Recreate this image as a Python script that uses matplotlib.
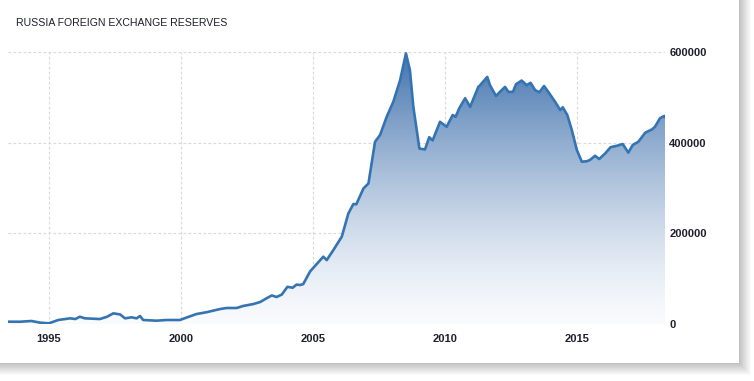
import numpy as np
import matplotlib
matplotlib.use("Agg")
import matplotlib.pyplot as plt
from matplotlib.patches import Rectangle
from matplotlib.colors import LinearSegmentedColormap

# Russia foreign exchange reserves, USD million
years = [1993.45, 1993.9, 1994.34, 1994.66, 1995.0, 1995.35, 1995.8, 1996.0, 1996.17,
         1996.36, 1996.93, 1997.2, 1997.44, 1997.7, 1997.88, 1998.13, 1998.32, 1998.45,
         1998.57, 1999.08, 1999.45, 1999.96, 2000.2, 2000.59, 2000.97, 2001.48, 2001.73,
         2002.11, 2002.37, 2002.74, 2003.0, 2003.25, 2003.44, 2003.62, 2003.82, 2004.03,
         2004.23, 2004.38, 2004.51, 2004.63, 2004.89, 2005.39, 2005.52, 2005.77, 2006.09,
         2006.34, 2006.53, 2006.64, 2006.91, 2007.1, 2007.35, 2007.54, 2007.79, 2008.04,
         2008.3, 2008.52, 2008.67, 2008.8, 2009.03, 2009.24, 2009.4, 2009.53, 2009.81,
         2010.06, 2010.29, 2010.4, 2010.54, 2010.76, 2010.95, 2011.26, 2011.33, 2011.6,
         2011.7, 2011.93, 2012.08, 2012.27, 2012.4, 2012.57, 2012.69, 2012.9, 2013.09,
         2013.24, 2013.41, 2013.57, 2013.75, 2013.91, 2014.17, 2014.36, 2014.46, 2014.63,
         2014.8, 2014.99, 2015.18, 2015.37, 2015.49, 2015.68, 2015.84, 2016.06, 2016.27,
         2016.5, 2016.73, 2016.94, 2017.11, 2017.32, 2017.58, 2017.83, 2017.95, 2018.14,
         2018.3, 2018.33]
reserves = [5100, 5000, 6600, 3000, 1500, 8800, 12500, 11000, 16000,
            12500, 11000, 16000, 23500, 21000, 12500, 14700, 12500, 17600,
            8800, 7300, 8800, 8800, 14000, 22000, 26000, 33000, 35300,
            35300, 40000, 44000, 48500, 57000, 63000, 59500, 65000, 82000,
            80000, 87000, 86000, 88000, 116000, 148500, 141000, 163000, 192600,
            244000, 264700, 264000, 299000, 310000, 402000, 417000, 457000, 490000,
            538000, 597000, 560000, 479000, 387000, 385000, 412000, 405000, 446000,
            435000, 461000, 457000, 476000, 498000, 479000, 523000, 527000, 545000,
            527000, 503000, 512000, 523000, 512000, 512000, 529000, 537000, 527000,
            532000, 516000, 511000, 525000, 512000, 490000, 472000, 478000, 461000,
            428000, 384000, 358000, 359000, 362000, 371000, 364000, 376000, 390000,
            393000, 397000, 378000, 395000, 402000, 422000, 429000, 435000, 454000,
            459000, 457000]

x_ticks = [1995, 2000, 2005, 2010, 2015]
y_ticks = [0, 200000, 400000, 600000]
title = "RUSSIA FOREIGN EXCHANGE RESERVES"

line_color = "#3574b2"
text_color = "#1f1f2e"
grid_color = "#d9d9d9"

W, H = 754, 381
fig = plt.figure(figsize=(W / 100, H / 100), dpi=100)
fig.patch.set_facecolor("white")

# card with a grey shadow on the right and bottom
card_w, card_h = 739, 363
for i in range(12, 0, -1):
    shade = 0.74 + 0.02 * i
    fig.patches.append(Rectangle((0, (H - card_h - i) / H), (card_w + i) / W, (card_h + i) / H,
                                 transform=fig.transFigure, facecolor=(shade, shade, shade),
                                 edgecolor="none", zorder=0))
fig.patches.append(Rectangle((0, (H - card_h) / H), card_w / W, card_h / H,
                             transform=fig.transFigure, facecolor="white", edgecolor="none", zorder=1))

# plot area
ax_l, ax_r, ax_t, ax_b = 8, 665, 52, 324
ax = fig.add_axes([ax_l / W, (H - ax_b) / H, (ax_r - ax_l) / W, (ax_b - ax_t) / H])
ax.set_facecolor("none")
ax.set_zorder(2)

x = np.array(years)
y = np.array(reserves)
ax.set_xlim(x[0], x[-1])
ax.set_ylim(0, 600000)

# gradient fill clipped to the area under the line
top = np.array([0.26, 0.45, 0.68])
bot = np.array([0.975, 0.982, 0.992])
cmap = LinearSegmentedColormap.from_list(
    "fade", [bot + (top - bot) * (1 - t) ** 1.4 for t in np.linspace(0, 1, 64)][::-1])
grad = np.linspace(1, 0, 256).reshape(-1, 1)
img = ax.imshow(grad, extent=[x[0], x[-1], 0, 600000], aspect="auto", cmap=cmap,
                origin="upper", zorder=1, vmin=0, vmax=1)
poly = ax.fill_between(x, y, 0, color="none", linewidth=0)
img.set_clip_path(poly.get_paths()[0], transform=ax.transData)

ax.plot(x, y, color=line_color, linewidth=1.9, solid_joinstyle="round", zorder=3)

# grid
ax.set_xticks(x_ticks)
ax.set_yticks(y_ticks)
ax.grid(True, color=grid_color, linestyle=(0, (2.5, 2)), linewidth=0.8, zorder=0)
ax.set_axisbelow(True)
for s in ax.spines.values():
    s.set_visible(False)

ax.yaxis.tick_right()
ax.tick_params(axis="both", length=0)
ax.tick_params(axis="y", pad=3)
ax.tick_params(axis="x", pad=7)
ax.set_yticklabels([str(v) for v in y_ticks])
ax.set_xticklabels([str(v) for v in x_ticks])
for lab in ax.get_xticklabels() + ax.get_yticklabels():
    lab.set_family("Liberation Sans")
    lab.set_fontsize(8)
    lab.set_fontweight("bold")
    lab.set_color(text_color)

fig.text(16 / W, 1 - 23.5 / H, title, fontsize=7.6, family="Liberation Sans",
         color=text_color, ha="left", va="center", zorder=3)

fig.savefig("out.png", dpi=100)
